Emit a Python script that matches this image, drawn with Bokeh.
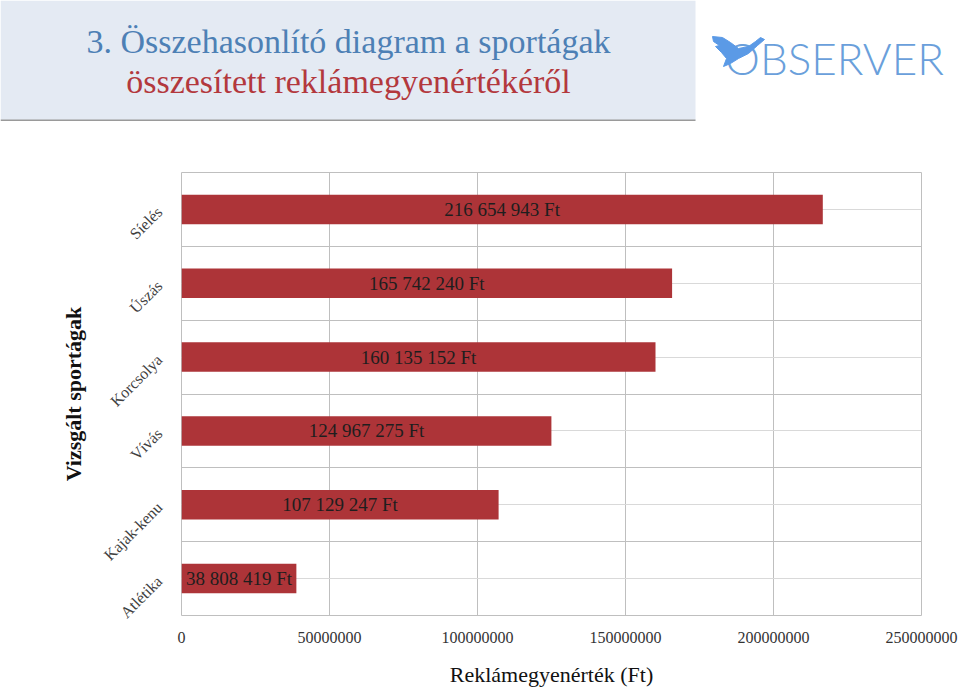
from bokeh.plotting import figure
from bokeh.models import Range1d, FixedTicker, Grid, NumeralTickFormatter, ColumnDataSource
from bokeh.core.properties import value
from bokeh.embed import file_html
from bokeh.resources import INLINE

# ---- data ----
categories = ["Atlétika", "Kajak-kenu", "Vívás", "Korcsolya", "Úszás", "Síelés"]
amounts = [38808419, 107129247, 124967275, 160135152, 165742240, 216654943]
x_ticks = [0, 50000000, 100000000, 150000000, 200000000, 250000000]
title_line1 = "3. Összehasonlító diagram a sportágak"
title_line2 = "összesített reklámegyenértékéről"
x_title = "Reklámegyenérték (Ft)"
y_title = "Vizsgált sportágak"
logo_text = "OBSERVER"

SERIF = value("Liberation Serif")

# ---- header ----
h = figure(width=960, height=121, x_range=Range1d(0, 960), y_range=Range1d(121, 0),
           x_axis_location=None, y_axis_location=None, toolbar_location=None,
           output_backend="svg", min_border=0)
h.grid.visible = False
h.outline_line_color = None
h.background_fill_color = "white"
h.border_fill_color = "white"
h.quad(left=[0], right=[695], top=[0], bottom=[120], fill_color="#e4eaf3", line_color=None)
h.segment(x0=[0], x1=[695], y0=[120], y1=[120], line_color="#9a9a9a", line_width=2)
h.text(x=[348], y=[41], text=[title_line1], text_align="center", text_baseline="middle",
       text_font=SERIF, text_font_size="34px", text_color="#4d80b5")
h.text(x=[348], y=[81], text=[title_line2], text_align="center", text_baseline="middle",
       text_font=SERIF, text_font_size="34px", text_color="#b3383d")
h.text(x=[834], y=[57], text=[logo_text], text_align="center", text_baseline="middle",
       text_font=value("'Lato Light', Lato, sans-serif"), text_font_size="44px",
       text_color="#6a9fdb")
# logo bird (decoration)
h.patch(x=[712, 722, 730, 738, 748, 755, 760, 764, 757, 748, 738, 730, 723, 726, 721, 715, 719, 713],
        y=[36, 37, 42, 48, 46, 41, 37, 39, 45, 53, 58, 63, 66, 58, 52, 46, 45, 41],
        fill_color="#5b9ae6", line_color="#5b9ae6", line_width=1)

# ---- main chart ----
ypos = [i + 0.5 for i in range(len(categories))]
labels = [f"{v:,}".replace(",", " ") + " Ft" for v in amounts]
src = ColumnDataSource(dict(y=ypos, v=amounts, half=[v / 2 for v in amounts], lab=labels))

p = figure(width=960, height=568, x_range=Range1d(0, x_ticks[-1]),
           y_range=Range1d(0, len(categories)), toolbar_location=None,
           output_backend="svg", min_border_left=181, min_border_right=39,
           min_border_top=51, min_border_bottom=74)
p.outline_line_color = "#bfbfbf"
p.background_fill_color = "white"

# grids
p.xgrid.ticker = FixedTicker(ticks=x_ticks)
p.xgrid.grid_line_color = "#bfbfbf"
p.ygrid.ticker = FixedTicker(ticks=list(range(len(categories) + 1)))
p.ygrid.grid_line_color = "#bfbfbf"
p.add_layout(Grid(dimension=1, ticker=FixedTicker(ticks=ypos), grid_line_color="#d9d9d9"))

p.hbar(y="y", right="v", left=0, height=0.4, source=src, fill_color="#ad3438", line_color=None)
p.text(x="half", y="y", text="lab", source=src, text_align="center", text_baseline="middle",
       text_font=SERIF, text_font_size="19px", text_color="#1e1e1e")

# axes
xa = p.xaxis[0]
xa.ticker = FixedTicker(ticks=x_ticks)
xa.formatter = NumeralTickFormatter(format="0")
xa.axis_line_color = None
xa.major_tick_line_color = None
xa.minor_tick_line_color = None
xa.major_label_text_font = "Liberation Serif"
xa.major_label_text_font_size = "16px"
xa.major_label_text_color = "#333333"
xa.major_label_standoff = 10
xa.axis_label = x_title
xa.axis_label_text_font = "Liberation Serif"
xa.axis_label_text_font_style = "normal"
xa.axis_label_text_font_size = "22px"
xa.axis_label_text_color = "#111111"
xa.axis_label_standoff = 16

ya = p.yaxis[0]
ya.ticker = FixedTicker(ticks=ypos)
ya.major_label_overrides = {y: c for y, c in zip(ypos, categories)}
ya.major_label_orientation = 0.785398
ya.axis_line_color = None
ya.major_tick_line_color = None
ya.minor_tick_line_color = None
ya.major_label_text_font = "Liberation Serif"
ya.major_label_text_font_size = "16px"
ya.major_label_text_color = "#404040"
ya.major_label_standoff = 16
ya.axis_label = y_title
ya.axis_label_text_font = "Liberation Serif"
ya.axis_label_text_font_style = "bold"
ya.axis_label_text_font_size = "22px"
ya.axis_label_text_color = "#111111"
ya.axis_label_standoff = 6

open("out.html", "w").write(file_html([h, p], INLINE))
